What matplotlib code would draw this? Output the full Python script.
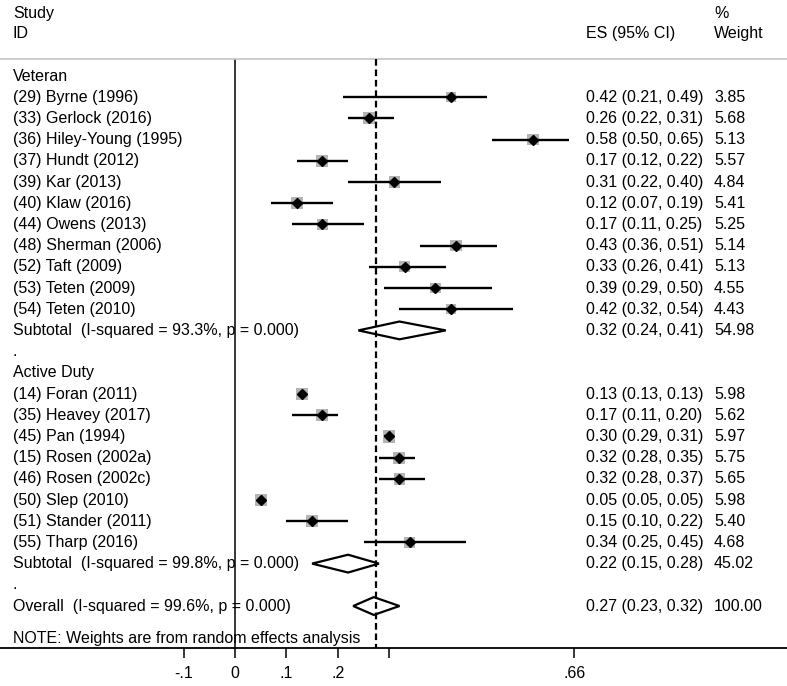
"""
Forest plot: effect sizes by study, grouped into Veteran and Active Duty.
"""

import matplotlib
matplotlib.use("Agg")
import matplotlib.pyplot as plt
import numpy as np

plt.rcParams["font.family"] = ["Liberation Sans", "DejaVu Sans"]
FONT_SIZE = 11.5

# Veteran studies
veteran_labels = [
    "(29) Byrne (1996)", "(33) Gerlock (2016)", "(36) Hiley-Young (1995)",
    "(37) Hundt (2012)", "(39) Kar (2013)", "(40) Klaw (2016)",
    "(44) Owens (2013)", "(48) Sherman (2006)", "(52) Taft (2009)",
    "(53) Teten (2009)", "(54) Teten (2010)",
]
veteran_es = [0.42, 0.26, 0.58, 0.17, 0.31, 0.12, 0.17, 0.43, 0.33, 0.39, 0.42]
veteran_lo = [0.21, 0.22, 0.50, 0.12, 0.22, 0.07, 0.11, 0.36, 0.26, 0.29, 0.32]
veteran_hi = [0.49, 0.31, 0.65, 0.22, 0.40, 0.19, 0.25, 0.51, 0.41, 0.50, 0.54]
veteran_wt = [3.85, 5.68, 5.13, 5.57, 4.84, 5.41, 5.25, 5.14, 5.13, 4.55, 4.43]
veteran_sub = (0.32, 0.24, 0.41, 54.98)
veteran_isq = "Subtotal  (I-squared = 93.3%, p = 0.000)"

# Active duty studies
active_labels = [
    "(14) Foran (2011)", "(35) Heavey (2017)", "(45) Pan (1994)",
    "(15) Rosen (2002a)", "(46) Rosen (2002c)", "(50) Slep (2010)",
    "(51) Stander (2011)", "(55) Tharp (2016)",
]
active_es = [0.13, 0.17, 0.30, 0.32, 0.32, 0.05, 0.15, 0.34]
active_lo = [0.13, 0.11, 0.29, 0.28, 0.28, 0.05, 0.10, 0.25]
active_hi = [0.13, 0.20, 0.31, 0.35, 0.37, 0.05, 0.22, 0.45]
active_wt = [5.98, 5.62, 5.97, 5.75, 5.65, 5.98, 5.40, 4.68]
active_sub = (0.22, 0.15, 0.28, 45.02)
active_isq = "Subtotal  (I-squared = 99.8%, p = 0.000)"

overall = (0.27, 0.23, 0.32, 100.00)
overall_isq = "Overall  (I-squared = 99.6%, p = 0.000)"
overall_line = 0.274

tick_values = [-0.1, 0, 0.1, 0.2, 0.3, 0.66]
tick_labels = ["-.1", "0", ".1", ".2", "", ".66"]

# layout (data coords: x = effect size, y = row index)
PX_PER_UNIT = 514
X_LABEL = (13 - 235) / PX_PER_UNIT
X_ES = (586 - 235) / PX_PER_UNIT
X_WT = (714 - 235) / PX_PER_UNIT
Y_SEP = -0.79


def fmt_es(es, lo, hi):
    return f"{es:.2f} ({lo:.2f}, {hi:.2f})"


def draw_diamond(ax, y, es, lo, hi, half=0.42):
    xs = [lo, es, hi, es, lo]
    ys = [y, y - half, y, y + half, y]
    ax.fill(xs, ys, facecolor="white", edgecolor="black", lw=1.6, zorder=5)


def draw_group(ax, start, name, labels, es, lo, hi, wt, sub, sub_text):
    ax.text(X_LABEL, start, name, va="center", fontsize=FONT_SIZE)
    rows = start + 1 + np.arange(len(labels))
    ax.scatter(es, rows, s=np.array(wt) * 13, marker="s",
               color="#b4b4b4", linewidths=0, zorder=2)
    ax.hlines(rows, lo, hi, color="black", lw=1.7, zorder=3)
    ax.plot(es, rows, "D", color="black", markersize=4.8, zorder=4)
    for r, lab, e, l, h, w in zip(rows, labels, es, lo, hi, wt):
        ax.text(X_LABEL, r, lab, va="center", fontsize=FONT_SIZE)
        ax.text(X_ES, r, fmt_es(e, l, h), va="center", fontsize=FONT_SIZE)
        ax.text(X_WT, r, f"{w:.2f}", va="center", fontsize=FONT_SIZE)
    sub_row = rows[-1] + 1
    draw_diamond(ax, sub_row, sub[0], sub[1], sub[2])
    ax.text(X_LABEL, sub_row, sub_text, va="center", fontsize=FONT_SIZE)
    ax.text(X_ES, sub_row, fmt_es(*sub[:3]), va="center", fontsize=FONT_SIZE)
    ax.text(X_WT, sub_row, f"{sub[3]:.2f}", va="center", fontsize=FONT_SIZE)
    ax.text(X_LABEL, sub_row + 1, ".", va="center", fontsize=FONT_SIZE)
    return sub_row + 2


fig = plt.figure(figsize=(7.87, 6.86), dpi=100)
ax = fig.add_axes([0, 38 / 686, 1, 648 / 686])
ax.set_xlim(-235 / PX_PER_UNIT, 552 / PX_PER_UNIT)
ax.set_ylim(26.98, -3.585)

for side in ("top", "left", "right"):
    ax.spines[side].set_visible(False)
ax.spines["bottom"].set_linewidth(1.3)
ax.set_yticks([])
ax.set_xticks(tick_values)
ax.set_xticklabels(tick_labels, fontsize=FONT_SIZE)
ax.tick_params(axis="x", direction="out", length=7.2, width=1.1, pad=5.5)

# headers
ax.text(X_LABEL, -2.96, "Study", va="center", fontsize=FONT_SIZE)
ax.text(X_LABEL, -2.01, "ID", va="center", fontsize=FONT_SIZE)
ax.text(X_ES, -2.01, "ES (95% CI)", va="center", fontsize=FONT_SIZE)
ax.text(X_WT, -2.96, "%", va="center", fontsize=FONT_SIZE)
ax.text(X_WT, -2.01, "Weight", va="center", fontsize=FONT_SIZE)
ax.axhline(Y_SEP, color="#c4c4c4", lw=1.2)

# reference lines
ax.vlines(0, Y_SEP, 26.98, color="black", lw=1.1, zorder=1)
ax.vlines(overall_line, Y_SEP, 26.98, color="black", lw=1.6,
          linestyles=(0, (3, 1.7)), zorder=6)

row = draw_group(ax, 0, "Veteran", veteran_labels, veteran_es, veteran_lo,
                 veteran_hi, veteran_wt, veteran_sub, veteran_isq)
row = draw_group(ax, row, "Active Duty", active_labels, active_es, active_lo,
                 active_hi, active_wt, active_sub, active_isq)

draw_diamond(ax, row, overall[0], overall[1], overall[2])
ax.text(X_LABEL, row, overall_isq, va="center", fontsize=FONT_SIZE)
ax.text(X_ES, row, fmt_es(*overall[:3]), va="center", fontsize=FONT_SIZE)
ax.text(X_WT, row, f"{overall[3]:.2f}", va="center", fontsize=FONT_SIZE)
ax.text(X_LABEL, row + 1.55, "NOTE: Weights are from random effects analysis",
        va="center", fontsize=FONT_SIZE)

fig.savefig("out.png", dpi=100)
